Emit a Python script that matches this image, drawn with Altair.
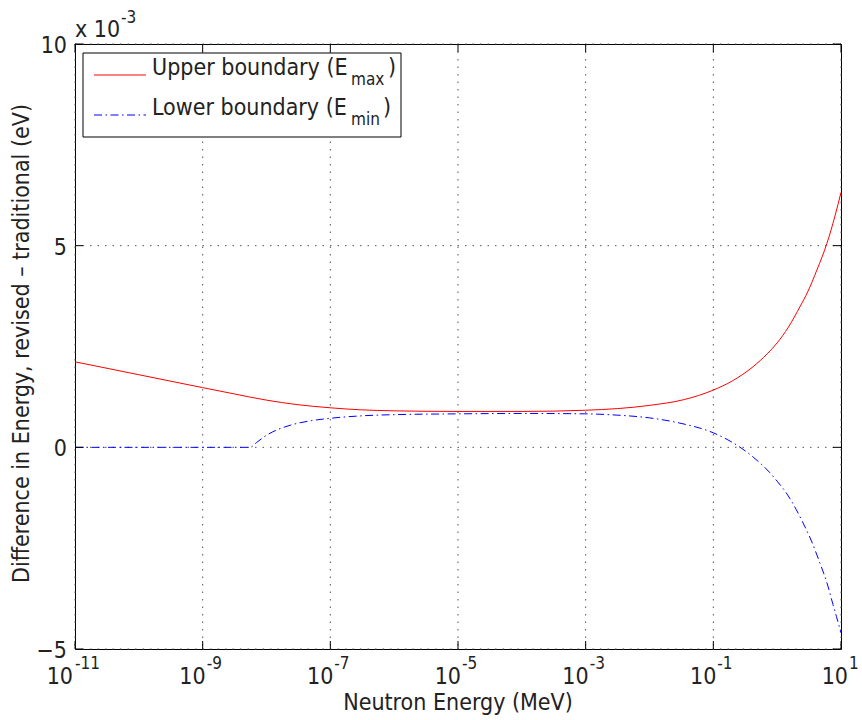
import altair as alt
import pandas as pd

# ---------------- data (difference in units of 1e-3 eV) ----------------
upper_energy = [1e-11, 1e-10, 1e-9, 3e-9, 1e-8, 3e-8, 1e-7, 3e-7, 1e-6, 1e-5, 1e-4,
                1e-3, 1e-2, 3.4e-2, 1e-1, 2e-1, 4.2e-1, 7e-1, 1.0, 1.5, 2.3, 3.0,
                4.2, 6.0, 8.0, 10.0]
upper_diff = [2.12, 1.80, 1.48, 1.33, 1.17, 1.06, 0.98, 0.93, 0.905, 0.89, 0.89,
              0.92, 1.04, 1.18, 1.42, 1.65, 2.00, 2.32, 2.59, 2.98, 3.50, 3.85,
              4.40, 5.05, 5.72, 6.32]

lower_energy = [1e-11, 1e-10, 1e-9, 5.5e-9, 7e-9, 1e-8, 1.5e-8, 2.5e-8, 5e-8, 1e-7, 3e-7,
                1e-6, 1e-5, 1e-4, 1e-3, 3e-3, 1e-2, 3e-2, 1e-1, 2e-1, 4.2e-1,
                7.7e-1, 1.0, 1.43, 2.0, 2.5, 3.4, 4.7, 6.0, 7.5, 8.5, 10.0]
lower_diff = [0.0, 0.0, 0.0, 0.0, 0.12, 0.30, 0.44, 0.56, 0.66, 0.72, 0.78,
              0.81, 0.83, 0.84, 0.83, 0.80, 0.73, 0.60, 0.36, 0.12, -0.24,
              -0.63, -0.84, -1.16, -1.55, -1.85, -2.30, -2.88, -3.35, -3.90, -4.20, -4.60]

x_ticks = [1e-11, 1e-9, 1e-7, 1e-5, 1e-3, 1e-1, 1e1]
x_tick_base = ["10"] * 7
x_tick_exp = ["-11", "-9", "-7", "-5", "-3", "-1", "1"]
y_ticks = [-5, 0, 5, 10]
y_tick_labels = ["\u22125", "0", "5", "10"]

legend_labels = ["Upper boundary (E", "Lower boundary (E"]
legend_subs = ["max", "min"]

x_title = "Neutron Energy (MeV)"
y_title = "Difference in Energy, revised \u2013 traditional (eV)"
mult_base = "x 10"
mult_exp = "-3"

# ---------------- layout ----------------
W, H = 766, 605
FONT = "DejaVu Sans Condensed, DejaVu Sans"
TXT = "#222222"
FS = 23      # main text size
FS_SUP = 17  # super/subscript size

x_scale = alt.Scale(type="log", domain=[1e-11, 10], nice=False)
y_scale = alt.Scale(domain=[-5, 10], nice=False, zero=False)

df_up = pd.DataFrame({"E": upper_energy, "dE": upper_diff})
df_lo = pd.DataFrame({"E": lower_energy, "dE": lower_diff})
df_xt = pd.DataFrame({"t": x_ticks, "base": x_tick_base, "e": x_tick_exp})
df_yt = pd.DataFrame({"t": y_ticks, "lab": y_tick_labels})
one = pd.DataFrame({"a": [0]})

GRID_DASH = [1.5, 6]
GRID_COLOR = "#555555"

# dotted grid
x_grid = alt.Chart(df_xt).mark_rule(color=GRID_COLOR, strokeWidth=1, strokeDash=GRID_DASH).encode(
    x=alt.X("t:Q", scale=x_scale, axis=None), y=alt.value(0), y2=alt.value(H))
y_grid = alt.Chart(df_yt).mark_rule(color=GRID_COLOR, strokeWidth=1, strokeDash=GRID_DASH).encode(
    y=alt.Y("t:Q", scale=y_scale, axis=None), x=alt.value(0), x2=alt.value(W))

upper = alt.Chart(df_up).mark_line(color="#ff0000", strokeWidth=1, interpolate="monotone").encode(
    x=alt.X("E:Q", scale=x_scale, axis=None),
    y=alt.Y("dE:Q", scale=y_scale, axis=None),
)
lower = alt.Chart(df_lo).mark_line(color="#0000ff", strokeWidth=1, interpolate="monotone",
                                   strokeDash=[8, 3.5, 1.5, 3.5]).encode(
    x=alt.X("E:Q", scale=x_scale, axis=None),
    y=alt.Y("dE:Q", scale=y_scale, axis=None),
)

# inward tick marks on all four sides
tick_len = 8
xt_bottom = alt.Chart(df_xt).mark_rule(color="black", strokeWidth=1).encode(
    x=alt.X("t:Q", scale=x_scale, axis=None), y=alt.value(H), y2=alt.value(H - tick_len))
xt_top = alt.Chart(df_xt).mark_rule(color="black", strokeWidth=1).encode(
    x=alt.X("t:Q", scale=x_scale, axis=None), y=alt.value(0), y2=alt.value(tick_len))
yt_left = alt.Chart(df_yt).mark_rule(color="black", strokeWidth=1).encode(
    y=alt.Y("t:Q", scale=y_scale, axis=None), x=alt.value(0), x2=alt.value(tick_len))
yt_right = alt.Chart(df_yt).mark_rule(color="black", strokeWidth=1).encode(
    y=alt.Y("t:Q", scale=y_scale, axis=None), x=alt.value(W), x2=alt.value(W - tick_len))

# x tick labels 10^n (base + superscript), grouped by superscript width
label_layers = []
groups = [(["-11"], -2, 0), (["-9", "-7", "-5", "-3", "-1"], 3, 4), (["1"], 7, 8)]
for exps, dx_base, dx_sup in groups:
    sub = alt.Chart(df_xt).transform_filter(alt.FieldOneOfPredicate(field="e", oneOf=exps))
    label_layers.append(sub.mark_text(align="right", baseline="alphabetic", dx=dx_base,
                                      font=FONT, fontSize=FS, color=TXT).encode(
        x=alt.X("t:Q", scale=x_scale, axis=None), y=alt.value(H + 35), text="base:N"))
    label_layers.append(sub.mark_text(align="left", baseline="alphabetic", dx=dx_sup,
                                      font=FONT, fontSize=FS_SUP, color=TXT).encode(
        x=alt.X("t:Q", scale=x_scale, axis=None), y=alt.value(H + 20), text="e:N"))

y_labels = alt.Chart(df_yt).mark_text(align="right", baseline="middle", dx=-8, dy=2,
                                      font=FONT, fontSize=FS, color=TXT).encode(
    y=alt.Y("t:Q", scale=y_scale, axis=None), x=alt.value(0), text="lab:N")

mult1 = alt.Chart(one).mark_text(align="left", baseline="alphabetic", font=FONT,
                                 fontSize=FS, color=TXT, text=mult_base).encode(
    x=alt.value(0), y=alt.value(-7))
mult2 = alt.Chart(one).mark_text(align="left", baseline="alphabetic", font=FONT,
                                 fontSize=FS_SUP, color=TXT, text=mult_exp).encode(
    x=alt.value(46), y=alt.value(-21))

xtitle = alt.Chart(one).mark_text(align="center", baseline="alphabetic", font=FONT,
                                  fontSize=FS, color=TXT, text=x_title).encode(
    x=alt.value(W / 2), y=alt.value(H + 61))
ytitle = alt.Chart(one).mark_text(align="center", baseline="middle", angle=270, font=FONT,
                                  fontSize=FS, color=TXT, text=y_title).encode(
    x=alt.value(-53), y=alt.value(H / 2 - 3))

# legend box
leg_box = alt.Chart(one).mark_rect(fill="white", stroke="black", strokeWidth=1).encode(
    x=alt.value(8), x2=alt.value(326), y=alt.value(9), y2=alt.value(93))
leg_red = alt.Chart(one).mark_rule(color="#ff0000", strokeWidth=1).encode(
    x=alt.value(19), x2=alt.value(71), y=alt.value(31))
leg_blue = alt.Chart(one).mark_rule(color="#0000ff", strokeWidth=1,
                                    strokeDash=[8, 3.5, 1.5, 3.5]).encode(
    x=alt.value(19), x2=alt.value(71), y=alt.value(71))

leg_layers = []
row_y = [31, 71]
paren_x = [313, 308]
for lab, sb, yy, px in zip(legend_labels, legend_subs, row_y, paren_x):
    leg_layers.append(alt.Chart(one).mark_text(align="left", baseline="alphabetic", font=FONT,
                                               fontSize=FS, color=TXT, text=lab).encode(
        x=alt.value(77), y=alt.value(yy)))
    leg_layers.append(alt.Chart(one).mark_text(align="left", baseline="alphabetic", font=FONT,
                                               fontSize=FS_SUP, color=TXT, text=sb).encode(
        x=alt.value(276), y=alt.value(yy + 10)))
    leg_layers.append(alt.Chart(one).mark_text(align="left", baseline="alphabetic", font=FONT,
                                               fontSize=FS, color=TXT, text=")").encode(
        x=alt.value(px), y=alt.value(yy)))

chart = alt.layer(
    x_grid, y_grid, upper, lower, xt_bottom, xt_top, yt_left, yt_right, *label_layers, y_labels,
    mult1, mult2, xtitle, ytitle, leg_box, leg_red, leg_blue, *leg_layers
).properties(
    width=W, height=H,
    padding={"left": 75, "top": 44, "right": 21, "bottom": 71},
    autosize=alt.AutoSizeParams(type="none"),
    background="white",
).configure_view(stroke="black", strokeWidth=1)

chart.save("out.html", embed_options={"renderer": "svg", "actions": False})
